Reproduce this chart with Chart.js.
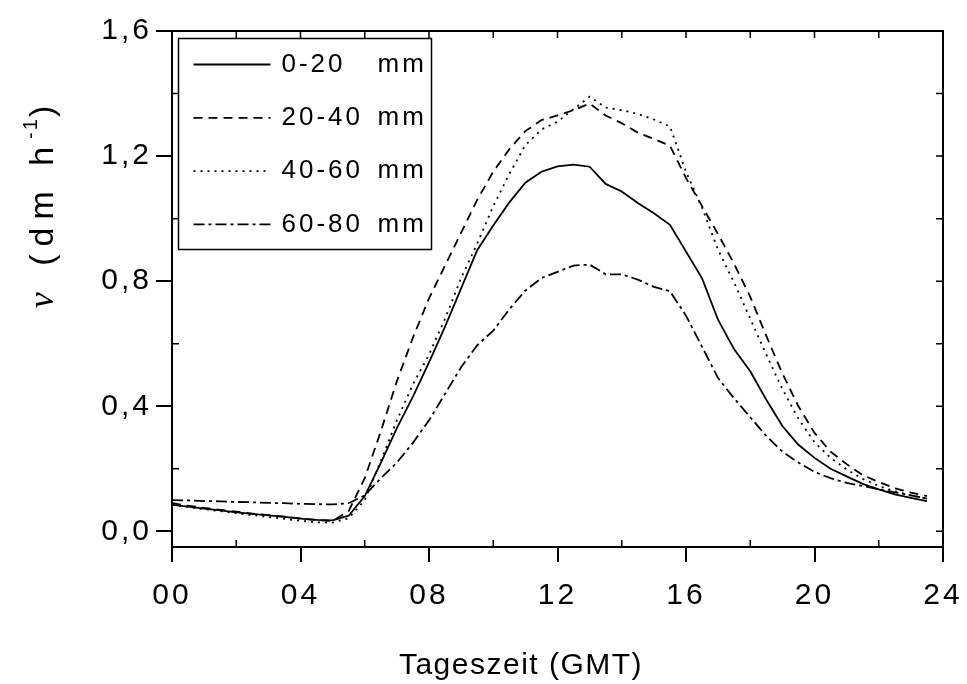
<!DOCTYPE html>
<html>
<head>
<meta charset="utf-8">
<script src="https://cdn.jsdelivr.net/npm/chart.js@4.4.1/dist/chart.umd.min.js"></script>
<style>
  html, body { margin: 0; background: #fff; }
  #wrap { width: 967px; height: 684px; }
</style>
</head>
<body>
<div id="wrap"><canvas id="chart"></canvas></div>
<script>
// Tageszeit (GMT), halbstündlich
const hours = [0, 0.5, 1, 1.5, 2, 2.5, 3, 3.5, 4, 4.5, 5, 5.5, 6, 6.5, 7, 7.5, 8, 8.5, 9, 9.5,
  10, 10.5, 11, 11.5, 12, 12.5, 13, 13.5, 14, 14.5, 15, 15.5, 16, 16.5, 17, 17.5, 18, 18.5, 19, 19.5,
  20, 20.5, 21, 21.5, 22, 22.5, 23, 23.5];

// v (dm h-1) je Tiefe
const depth0_20 = [0.085, 0.079, 0.073, 0.067, 0.061, 0.056, 0.051, 0.046, 0.041, 0.037, 0.035, 0.05,
  0.113, 0.219, 0.33, 0.431, 0.54, 0.655, 0.777, 0.899, 0.978, 1.052, 1.115, 1.15, 1.167, 1.173,
  1.166, 1.111, 1.087, 1.05, 1.017, 0.98, 0.895, 0.809, 0.676, 0.582, 0.512, 0.421, 0.337, 0.277,
  0.235, 0.2, 0.176, 0.152, 0.134, 0.118, 0.107, 0.097];
const depth20_40 = [0.09, 0.082, 0.075, 0.069, 0.063, 0.057, 0.052, 0.047, 0.041, 0.036, 0.033, 0.065,
  0.17, 0.32, 0.48, 0.62, 0.745, 0.85, 0.955, 1.06, 1.15, 1.222, 1.28, 1.315, 1.33, 1.347,
  1.368, 1.33, 1.305, 1.275, 1.255, 1.233, 1.13, 1.04, 0.95, 0.855, 0.75, 0.625, 0.505, 0.40,
  0.315, 0.255, 0.215, 0.18, 0.158, 0.138, 0.124, 0.113];
const depth40_60 = [0.085, 0.078, 0.071, 0.065, 0.058, 0.052, 0.046, 0.04, 0.034, 0.029, 0.028, 0.042,
  0.10, 0.225, 0.355, 0.47, 0.565, 0.68, 0.81, 0.92, 1.04, 1.143, 1.235, 1.285, 1.31, 1.35,
  1.39, 1.355, 1.347, 1.335, 1.317, 1.295, 1.15, 1.035, 0.9, 0.795, 0.68, 0.565, 0.455, 0.36,
  0.285, 0.235, 0.198, 0.168, 0.145, 0.128, 0.115, 0.105];
const depth60_80 = [0.10, 0.099, 0.097, 0.096, 0.094, 0.093, 0.091, 0.09, 0.088, 0.087, 0.086, 0.09,
  0.115, 0.17, 0.22, 0.283, 0.355, 0.44, 0.525, 0.595, 0.642, 0.71, 0.77, 0.81, 0.83, 0.85,
  0.853, 0.822, 0.822, 0.805, 0.782, 0.768, 0.69, 0.59, 0.49, 0.425, 0.365, 0.305, 0.255, 0.22,
  0.19, 0.17, 0.155, 0.145, 0.135, 0.125, 0.115, 0.105];

const seriesLabels = ['0-20', '20-40', '40-60', '60-80'];
const unit = 'mm';
const xTicks = [0, 4, 8, 12, 16, 20, 24];
const yTicks = [0, 0.4, 0.8, 1.2, 1.6];

const SANS = "'Liberation Sans', Arial, sans-serif";
const pts = vals => hours.map((h, i) => ({ x: h, y: vals[i] }));

function line(label, vals, dash) {
  return {
    label, data: pts(vals),
    borderColor: '#000', borderWidth: 1.8, borderDash: dash,
    pointRadius: 0, tension: 0, fill: false
  };
}

// frame, minor ticks, legend box and axis titles
const decor = {
  id: 'decor',
  beforeDraw(chart) { chart.ctx.letterSpacing = '3px'; },
  afterDraw(chart) {
    const { ctx, chartArea: a, scales: { x, y } } = chart;
    ctx.save();
    ctx.letterSpacing = '0px';
    ctx.strokeStyle = '#000';
    ctx.lineWidth = 2;
    ctx.beginPath();
    ctx.moveTo(a.left, a.top); ctx.lineTo(a.right, a.top); ctx.lineTo(a.right, a.bottom);
    ctx.stroke();

    ctx.lineWidth = 1.5;
    ctx.beginPath();
    for (let h = 0; h <= 24; h += 2) {
      const px = x.getPixelForValue(h);
      ctx.moveTo(px, a.top); ctx.lineTo(px, a.top + 7);
      if (h % 4) { ctx.moveTo(px, a.bottom); ctx.lineTo(px, a.bottom - 7); }
    }
    for (let i = 0; i <= 8; i++) {
      const py = y.getPixelForValue(i * 0.2);
      ctx.moveTo(a.right, py); ctx.lineTo(a.right - 7, py);
      if (i % 2) { ctx.moveTo(a.left, py); ctx.lineTo(a.left + 7, py); }
    }
    ctx.stroke();

    // legend
    const bx = a.left + 6.5, by = a.top + 7.5, bw = 253, bh = 211;
    ctx.fillStyle = '#fff';
    ctx.fillRect(bx, by, bw, bh);
    ctx.lineWidth = 1.5;
    ctx.strokeRect(bx, by, bw, bh);
    ctx.font = '26px ' + SANS;
    ctx.textBaseline = 'middle';
    chart.data.datasets.forEach((ds, i) => {
      const cy = by + 26 + i * 53.3;
      ctx.save();
      ctx.lineWidth = ds.borderWidth;
      ctx.setLineDash(ds.borderDash || []);
      ctx.beginPath(); ctx.moveTo(bx + 15, cy); ctx.lineTo(bx + 92, cy); ctx.stroke();
      ctx.restore();
      ctx.fillStyle = '#000';
      ctx.letterSpacing = '3px';
      ctx.textAlign = 'left';
      ctx.fillText(ds.label, bx + 103, cy);
      ctx.fillText(unit, bx + 199, cy);
    });

    // x title
    ctx.fillStyle = '#000';
    ctx.letterSpacing = '1.5px';
    ctx.font = '30px ' + SANS;
    ctx.textAlign = 'center';
    ctx.textBaseline = 'middle';
    ctx.fillText('Tageszeit (GMT)', 521, 666);

    // y title: ν (dm h-1)
    ctx.translate(41, 207);
    ctx.rotate(-Math.PI / 2);
    ctx.textAlign = 'left';
    ctx.textBaseline = 'alphabetic';
    const parts = [
      { t: 'ν', f: "italic 36px 'Liberation Serif', serif", ls: '9px', dy: 0 },
      { t: ' (dm h', f: '34px ' + SANS, ls: '8px', dy: 0 },
      { t: '-1', f: '20px ' + SANS, ls: '2px', dy: -16 },
      { t: ')', f: '34px ' + SANS, ls: '0px', dy: 0 }
    ];
    let w = 0;
    parts.forEach(p => { ctx.font = p.f; ctx.letterSpacing = p.ls; p.w = ctx.measureText(p.t).width; w += p.w; });
    let cx = -w / 2;
    parts.forEach(p => {
      ctx.font = p.f; ctx.letterSpacing = p.ls;
      ctx.fillText(p.t, cx, 12 + p.dy);
      cx += p.w;
    });
    ctx.restore();
  }
};

new Chart(document.getElementById('chart'), {
  type: 'line',
  data: {
    datasets: [
      line(seriesLabels[0], depth0_20, []),
      line(seriesLabels[1], depth20_40, [9, 6]),
      line(seriesLabels[2], depth40_60, [2, 5]),
      line(seriesLabels[3], depth60_80, [11, 4, 3, 4])
    ]
  },
  options: {
    responsive: true,
    maintainAspectRatio: false,
    animation: false,
    layout: { padding: { top: 31, right: 24, left: 0, bottom: 0 } },
    plugins: { legend: { display: false }, tooltip: { enabled: false } },
    scales: {
      x: {
        type: 'linear', min: 0, max: 24,
        afterBuildTicks: s => { s.ticks = xTicks.map(v => ({ value: v })); },
        afterFit: s => { s.height = 137; s.paddingLeft = 0; s.paddingRight = 0; },
        grid: { drawOnChartArea: false, tickLength: 15, lineWidth: 2, color: '#000' },
        border: { width: 2, color: '#000' },
        ticks: {
          padding: 16, color: '#000', maxRotation: 0,
          font: { family: SANS, size: 30 },
          callback: v => String(v).padStart(2, '0')
        }
      },
      y: {
        min: -0.05, max: 1.6,
        afterBuildTicks: s => { s.ticks = yTicks.map(v => ({ value: v })); },
        afterFit: s => { s.width = 172; s.paddingTop = 0; s.paddingBottom = 0; },
        grid: { drawOnChartArea: false, tickLength: 16, lineWidth: 2, color: '#000' },
        border: { width: 2, color: '#000' },
        ticks: {
          padding: 4, color: '#000',
          font: { family: SANS, size: 30 },
          callback: v => v.toFixed(1).replace('.', ',')
        }
      }
    }
  },
  plugins: [decor]
});
</script>
</body>
</html>
